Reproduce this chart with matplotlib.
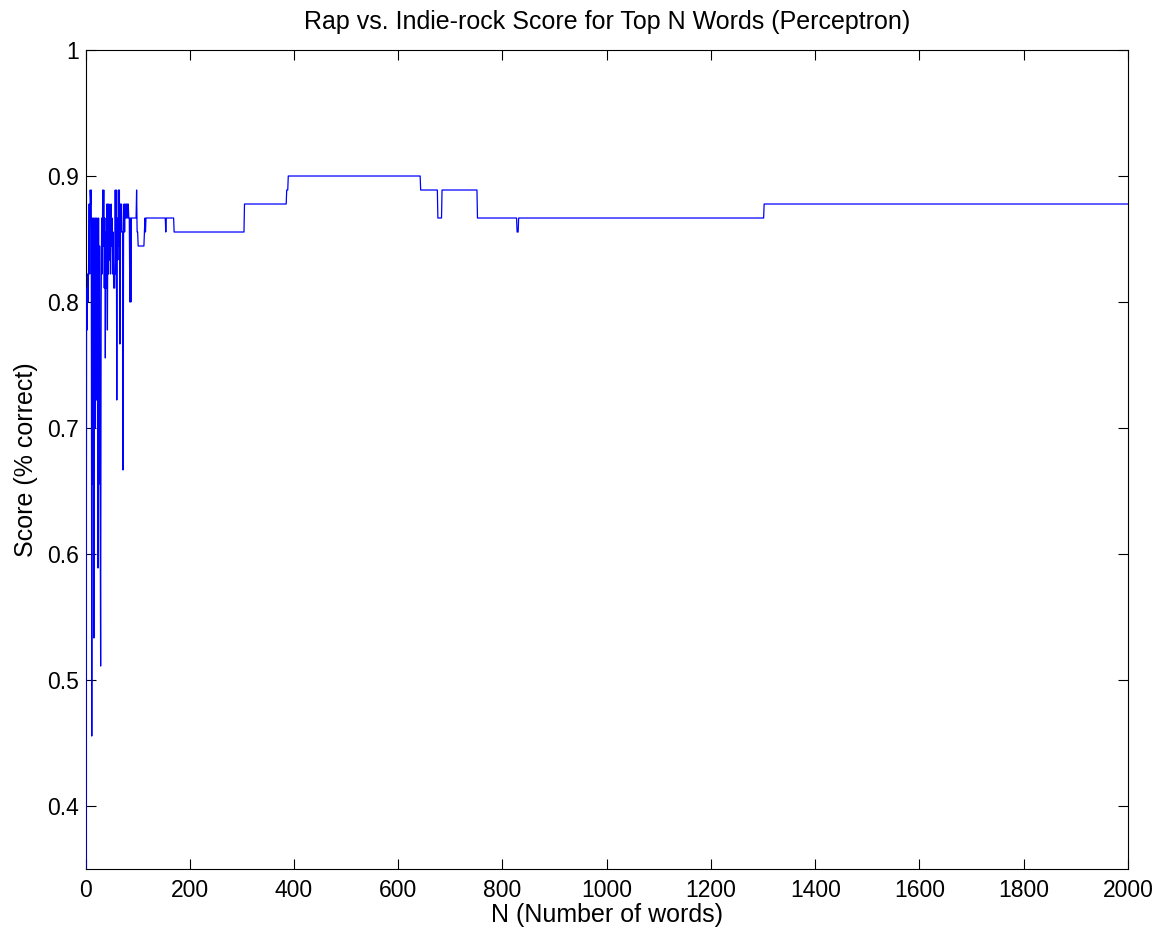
import numpy as np
import matplotlib
matplotlib.use("Agg")
import matplotlib.pyplot as plt

plt.rcParams['font.family'] = ['Liberation Sans', 'DejaVu Sans']

TEST_SIZE = 90  # scores are counts of correct answers out of 90

# Per-N correct counts for N = 1 .. 117 (noisy early region)
early_counts = [
    31, 73, 70, 74, 72, 75, 79, 74, 80, 79,
    80, 41, 78, 59, 78, 48, 76, 78, 63, 78,
    65, 78, 70, 53, 78, 59, 76, 59, 46, 72,
    78, 74, 80, 76, 80, 73, 78, 68, 77, 73,
    79, 70, 79, 74, 79, 75, 78, 74, 79, 76,
    78, 74, 77, 73, 73, 73, 80, 74, 80, 65,
    78, 75, 80, 76, 80, 69, 79, 77, 79, 77,
    77, 60, 77, 79, 77, 79, 78, 79, 78, 79,
    78, 79, 78, 78, 72, 78, 72, 78, 78, 78,
    78, 78, 78, 78, 78, 78, 78, 80, 77, 77,
    76, 76, 76, 76, 76, 76, 76, 76, 76, 76,
    76, 76, 77, 78, 77, 78, 78,
]

# Later region: plateaus (first N of plateau, correct count)
plateau_start = [118, 154, 155, 170, 305, 386, 389, 643, 676, 684, 752, 828, 831, 1302]
plateau_count = [78, 77, 78, 77, 79, 80, 81, 80, 78, 80, 78, 77, 78, 79]
N_MAX = 2000

# run-length decode plateaus
ends = plateau_start[1:] + [N_MAX + 1]
lengths = [e - s for s, e in zip(plateau_start, ends)]
late_counts = np.repeat(plateau_count, lengths)

counts = np.concatenate([np.array(early_counts), late_counts])
N = np.arange(1, len(counts) + 1)
score = counts / TEST_SIZE

FS_TICK = 16.5
FS_LABEL = 18

fig = plt.figure(figsize=(11.62, 9.40), dpi=100)
ax = fig.add_axes([0.0736, 0.0755, 0.8971, 0.8713])
ax.plot(N, score, color='#0000ff', linewidth=0.9, zorder=3)

ax.set_xlim(0, 2000)
ax.set_ylim(0.35, 1.0)
ax.set_xticks(np.arange(0, 2001, 200))
ax.set_yticks([0.4, 0.5, 0.6, 0.7, 0.8, 0.9, 1.0])
ax.set_yticklabels(['0.4', '0.5', '0.6', '0.7', '0.8', '0.9', '1'])
ax.tick_params(direction='in', length=7, width=0.8, labelsize=FS_TICK,
               top=True, right=True)
ax.tick_params(axis='x', pad=7)
ax.tick_params(axis='y', pad=5)
for s in ax.spines.values():
    s.set_linewidth(0.8)

ax.set_title('Rap vs. Indie-rock Score for Top N Words (Perceptron)', fontsize=FS_LABEL, pad=15)
ax.set_xlabel('N (Number of words)', fontsize=FS_LABEL, labelpad=1)
ax.set_ylabel('Score (% correct)', fontsize=FS_LABEL, labelpad=6)

fig.savefig('out.png', dpi=100, facecolor='white')
